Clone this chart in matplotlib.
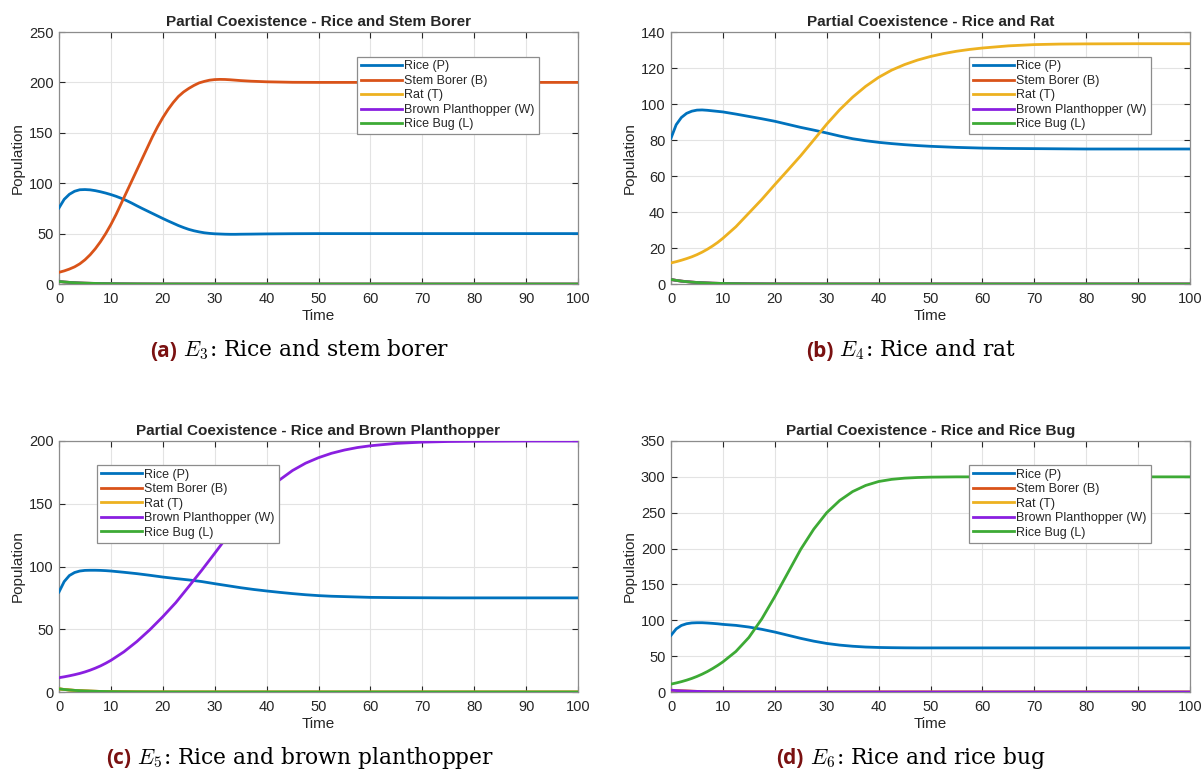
import matplotlib
matplotlib.use("Agg")
import matplotlib.pyplot as plt
import numpy as np
from matplotlib.offsetbox import TextArea, HPacker, AnnotationBbox

plt.rcParams['font.family'] = ['Liberation Sans', 'DejaVu Sans']
plt.rcParams['mathtext.fontset'] = 'cm'

# ---------------- data ----------------
series_labels = ["Rice (P)", "Stem Borer (B)", "Rat (T)", "Brown Planthopper (W)", "Rice Bug (L)"]
series_colors = ["#0072BD", "#D95319", "#EDB120", "#8A1FE0", "#3DAA35"]

titles = ["Partial Coexistence - Rice and Stem Borer",
          "Partial Coexistence - Rice and Rat",
          "Partial Coexistence - Rice and Brown Planthopper",
          "Partial Coexistence - Rice and Rice Bug"]
caption_tags = ["(a)", "(b)", "(c)", "(d)"]
caption_texts = [r" $E_3$: Rice and stem borer", r" $E_4$: Rice and rat",
                 r" $E_5$: Rice and brown planthopper", r" $E_6$: Rice and rice bug"]
y_max = [250, 140, 200, 350]
y_step = [50, 20, 50, 50]
x_ticks = [0, 10, 20, 30, 40, 50, 60, 70, 80, 90, 100]

# decaying small populations (extinct species)
t_decay = [0, 1, 2, 3, 4, 5, 6, 8, 10, 12, 15, 20, 30, 100]
v_decay = [2.5, 2.0, 1.6, 1.3, 1.05, 0.85, 0.7, 0.45, 0.3, 0.2, 0.1, 0.03, 0.0, 0.0]

# Panel (a): rice and stem borer
a_t = [0, 1, 2, 3, 4, 5, 6, 7, 8, 9, 10, 11, 12, 13, 14, 15, 16, 17, 18, 19, 20,
       21, 22, 23, 24, 25, 26, 27, 28, 29, 30, 31, 32, 33, 34, 35, 37, 40, 45, 50,
       60, 70, 80, 90, 100]
a_P = [75.5, 84, 89, 92, 93.5, 93.7, 93.4, 92.6, 91.5, 90.2, 88.7, 87, 85, 82.8, 80.3, 77.6, 75, 72.5, 70, 67.5, 65,
       62.6, 60.3, 58, 56, 54.2, 52.8, 51.7, 50.8, 50.2, 49.8, 49.6, 49.4, 49.3, 49.3, 49.4, 49.5, 49.7, 49.9, 50,
       50, 50, 50, 50, 50]
a_B = [11.6, 13, 14.8, 17, 20, 24, 29, 35, 42, 50, 59, 69, 80, 91, 102, 113, 124, 135, 146, 156, 165,
       173, 180, 186, 190.5, 194, 197, 199.5, 201, 202.2, 202.8, 203, 202.9, 202.6, 202.2, 201.8, 201.2, 200.6, 200.1, 200,
       200, 200, 200, 200, 200]

# common time grid for panels (b)-(d)
g_t = [0, 1, 2, 3, 4, 5, 6, 7, 8, 9, 10, 12.5, 15, 17.5, 20, 22.5, 25, 27.5, 30, 32.5, 35,
       37.5, 40, 42.5, 45, 47.5, 50, 52.5, 55, 57.5, 60, 65, 70, 75, 80, 90, 100]

# Panel (b): rice and rat
b_P = [81, 88.5, 92.5, 94.8, 96, 96.6, 96.7, 96.5, 96.2, 95.9, 95.6, 94.4, 93.1, 91.8, 90.4, 88.7, 87, 85.5, 83.9, 82.2, 80.7,
       79.6, 78.7, 78, 77.4, 76.9, 76.5, 76.2, 75.9, 75.7, 75.5, 75.3, 75.2, 75.1, 75, 75, 75]
b_T = [11.7, 12.4, 13.2, 14.1, 15.1, 16.3, 17.7, 19.3, 21.1, 23.1, 25.4, 31.8, 39.4, 47, 55.2, 63.2, 71.3, 80, 88.8, 96.8, 103.8,
       109.8, 114.8, 118.8, 121.9, 124.4, 126.4, 128, 129.3, 130.3, 131.1, 132.3, 133, 133.3, 133.4, 133.5, 133.5]

# Panel (c): rice and brown planthopper
c_P = [79.7, 88, 92.8, 95.2, 96.4, 96.9, 97, 97, 96.9, 96.7, 96.4, 95.4, 94.3, 93, 91.6, 90.4, 89.3, 88, 86.3, 84.7, 83.1,
       81.7, 80.5, 79.4, 78.4, 77.5, 76.8, 76.3, 76, 75.7, 75.4, 75.2, 75.1, 75, 75, 75, 75]
c_W = [11.4, 12.1, 12.9, 13.8, 14.8, 16, 17.4, 19, 20.8, 22.9, 25.2, 32, 40.2, 49.6, 60, 71.2, 84, 97, 110.5, 124.3, 137.5,
       149.5, 160, 169, 176.5, 182.3, 186.7, 190.2, 192.8, 194.8, 196.2, 198.1, 199.1, 199.6, 199.8, 200, 200]

# Panel (d): rice and rice bug
d_P = [79, 88, 92.8, 95.2, 96.3, 96.6, 96.6, 96.2, 95.7, 95.1, 94.3, 92.9, 90.6, 87.4, 83.6, 79.2, 74.8, 70.9, 67.7, 65.4, 63.8,
       62.7, 62.1, 61.8, 61.6, 61.5, 61.5, 61.5, 61.5, 61.5, 61.5, 61.5, 61.5, 61.5, 61.5, 61.5, 61.5]
d_L = [11, 12.6, 14.4, 16.5, 18.9, 21.7, 24.9, 28.5, 32.6, 37.1, 42, 56.5, 76, 102, 133, 166, 199, 227, 250, 267, 279.5,
       288, 293.5, 296.5, 298.2, 299.1, 299.6, 299.8, 300, 300, 300, 300, 300, 300, 300, 300, 300]

# which series grows in each panel (index into series list)
panel_series = [
    {0: (a_t, a_P), 1: (a_t, a_B)},
    {0: (g_t, b_P), 2: (g_t, b_T)},
    {0: (g_t, c_P), 3: (g_t, c_W)},
    {0: (g_t, d_P), 4: (g_t, d_L)},
]
legend_anchor = [(0.574, 0.902), (0.574, 0.902), (0.073, 0.904), (0.574, 0.904)]

# ---------------- figure ----------------
fig = plt.figure(figsize=(12.03, 7.71), dpi=100)
W, H = 1203.0, 771.0
boxes = [(59, 32, 578, 284), (671, 32, 1190, 284), (59, 441, 578, 692), (671, 441, 1190, 692)]
cap_pos = [(300, 350), (911, 350), (300, 758), (911, 758)]

for i in range(4):
    x0, y0, x1, y1 = boxes[i]
    ax = fig.add_axes([x0 / W, 1 - y1 / H, (x1 - x0) / W, (y1 - y0) / H])
    for k in range(5):
        if k in panel_series[i]:
            tt, vv = panel_series[i][k]
        else:
            tt, vv = t_decay, v_decay
        ax.plot(tt, vv, color=series_colors[k], lw=2, label=series_labels[k], zorder=3,
                solid_joinstyle="round")
    ax.set_xlim(0, 100)
    ax.set_ylim(0, y_max[i])
    ax.set_xticks(x_ticks)
    ax.set_yticks(np.arange(0, y_max[i] + 1, y_step[i]))
    ax.grid(True, color="#E3E3E3", lw=0.8, zorder=0)
    ax.set_axisbelow(True)
    ax.tick_params(direction="in", top=True, right=True, length=4, width=0.8,
                   colors="#262626", labelsize=10.5)
    ax.tick_params(axis="x", pad=6)
    ax.tick_params(axis="y", pad=4)
    for s in ax.spines.values():
        s.set_color("#8C8C8C")
        s.set_linewidth(0.9)
    ax.set_title(titles[i], fontsize=11, fontweight="bold", color="#262626", pad=4)
    ax.set_xlabel("Time", fontsize=11, color="#262626", labelpad=2)
    ax.set_ylabel("Population", fontsize=11, color="#262626", labelpad=3)
    leg = ax.legend(loc="upper left", bbox_to_anchor=legend_anchor[i], fontsize=9,
                    frameon=True, fancybox=False, edgecolor="#8C8C8C", framealpha=1,
                    handlelength=3.3, handletextpad=0.2, labelspacing=0.2,
                    borderpad=0.3, borderaxespad=0)
    leg.get_frame().set_linewidth(0.9)
    for txt in leg.get_texts():
        txt.set_color("#262626")

    tag = TextArea(caption_tags[i], textprops=dict(fontsize=15, fontweight="bold",
                                                   color="#7A1111", family=["Open Sans", "DejaVu Sans"]))
    body = TextArea(caption_texts[i], textprops=dict(fontsize=15.7, color="black",
                                                     family=["DejaVu Serif"]))
    pack = HPacker(children=[tag, body], align="baseline", pad=0, sep=0)
    ab = AnnotationBbox(pack, (cap_pos[i][0] / W, 1 - cap_pos[i][1] / H),
                        xycoords="figure fraction", frameon=False, box_alignment=(0.5, 0.5))
    fig.add_artist(ab)

fig.savefig("out.png", dpi=100)
